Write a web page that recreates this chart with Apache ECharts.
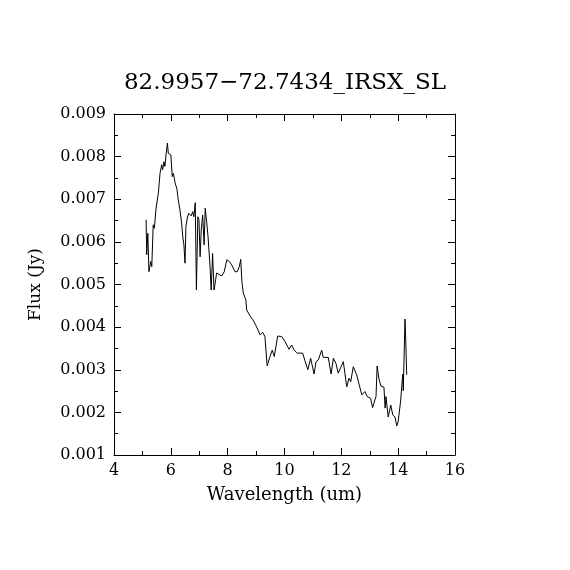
<!DOCTYPE html>
<html>
<head>
<meta charset="utf-8">
<script src="https://cdn.jsdelivr.net/npm/echarts@6/dist/echarts.min.js"></script>
<style>html,body{margin:0;padding:0;background:#fff}#c{width:570px;height:570px}</style>
</head>
<body>
<div id="c"></div>
<script>
const titleText = "82.9957\u221272.7434_IRSX_SL";
const xName = "Wavelength (um)";
const yName = "Flux (Jy)";
const wavelength = [5.13,5.15,5.19,5.23,5.29,5.33,5.38,5.42,5.48,5.56,5.62,5.68,5.71,5.76,5.79,5.83,5.88,5.91,5.95,6.00,6.05,6.09,6.15,6.21,6.26,6.32,6.38,6.42,6.46,6.50,6.53,6.58,6.63,6.67,6.72,6.77,6.81,6.86,6.90,6.95,6.99,7.03,7.07,7.12,7.17,7.21,7.26,7.31,7.34,7.38,7.42,7.47,7.52,7.56,7.61,7.68,7.79,7.88,7.97,8.06,8.14,8.26,8.34,8.41,8.46,8.50,8.55,8.61,8.64,8.67,8.79,8.89,9.00,9.07,9.14,9.23,9.31,9.39,9.49,9.57,9.64,9.76,9.90,10.02,10.16,10.25,10.34,10.45,10.64,10.72,10.82,10.92,11.04,11.11,11.19,11.31,11.36,11.54,11.64,11.72,11.81,11.89,12.07,12.19,12.27,12.33,12.42,12.54,12.72,12.83,12.91,13.03,13.10,13.18,13.22,13.26,13.32,13.39,13.50,13.54,13.57,13.65,13.74,13.81,13.89,13.95,14.00,14.09,14.16,14.18,14.24,14.26,14.30];
const flux = [0.00652,0.00570,0.00620,0.00530,0.00554,0.00542,0.00640,0.00632,0.00679,0.00714,0.00761,0.00781,0.00769,0.00788,0.00777,0.00804,0.00832,0.00808,0.00812,0.00804,0.00753,0.00761,0.00738,0.00726,0.00699,0.00675,0.00644,0.00612,0.00593,0.00550,0.00636,0.00656,0.00667,0.00669,0.00661,0.00671,0.00659,0.00692,0.00487,0.00659,0.00652,0.00565,0.00628,0.00663,0.00593,0.00679,0.00648,0.00612,0.00581,0.00542,0.00487,0.00573,0.00487,0.00503,0.00527,0.00528,0.00520,0.00530,0.00558,0.00554,0.00546,0.00530,0.00530,0.00542,0.00559,0.00507,0.00480,0.00476,0.00464,0.00440,0.00426,0.00417,0.00403,0.00393,0.00382,0.00388,0.00378,0.00309,0.00331,0.00346,0.00331,0.00379,0.00378,0.00366,0.00348,0.00358,0.00346,0.00339,0.00339,0.00321,0.00300,0.00327,0.00290,0.00319,0.00323,0.00346,0.00329,0.00329,0.00290,0.00327,0.00315,0.00292,0.00319,0.00260,0.00280,0.00272,0.00307,0.00288,0.00241,0.00249,0.00237,0.00233,0.00211,0.00229,0.00237,0.00309,0.00280,0.00262,0.00259,0.00210,0.00237,0.00189,0.00217,0.00194,0.00189,0.00168,0.00178,0.00229,0.00290,0.00251,0.00419,0.00386,0.00288];
const xMin = 4, xMax = 16, xStep = 2;
const yMin = 0.001, yMax = 0.009, yStep = 0.001;

const font = "'DejaVu Serif', 'Liberation Serif', serif";
const axisCommon = {
  axisLine: {show: true, onZero: false, lineStyle: {color: '#000', width: 1}},
  axisTick: {show: true, inside: true, length: 7, lineStyle: {color: '#000', width: 1}},
  minorTick: {show: true, splitNumber: 2, length: 4, lineStyle: {color: '#000', width: 1}},
  splitLine: {show: false},
  minorSplitLine: {show: false}
};
const chart = echarts.init(document.getElementById('c'));
chart.setOption({
  animation: false,
  backgroundColor: '#fff',
  title: {text: titleText, left: 'center', top: 67, textStyle: {fontFamily: font, fontWeight: 'normal', fontSize: 23, color: '#000'}},
  grid: {left: 114, right: 115, top: 114, bottom: 115},
  xAxis: [
    Object.assign({type: 'value', position: 'bottom', min: xMin, max: xMax, interval: xStep,
      name: xName, nameLocation: 'middle', nameGap: 31,
      nameTextStyle: {fontFamily: font, fontSize: 18, color: '#000'},
      axisLabel: {fontFamily: font, fontSize: 16, color: '#000', margin: 8}}, axisCommon),
    Object.assign({type: 'value', position: 'top', min: xMin, max: xMax, interval: xStep,
      axisLabel: {show: false}}, axisCommon)
  ],
  yAxis: [
    Object.assign({type: 'value', position: 'left', min: yMin, max: yMax, interval: yStep,
      name: yName, nameLocation: 'middle', nameGap: 70, nameRotate: 90,
      nameTextStyle: {fontFamily: font, fontSize: 17, color: '#000'},
      axisLabel: {fontFamily: font, fontSize: 16, color: '#000', margin: 8, formatter: v => v.toFixed(3)}}, axisCommon),
    Object.assign({type: 'value', position: 'right', min: yMin, max: yMax, interval: yStep,
      axisLabel: {show: false}}, axisCommon)
  ],
  series: [{
    type: 'line', xAxisIndex: 0, yAxisIndex: 0,
    data: wavelength.map((w, i) => [w, flux[i]]),
    showSymbol: false, symbol: 'none',
    lineStyle: {color: '#000', width: 1}
  }]
});
</script>
</body>
</html>
